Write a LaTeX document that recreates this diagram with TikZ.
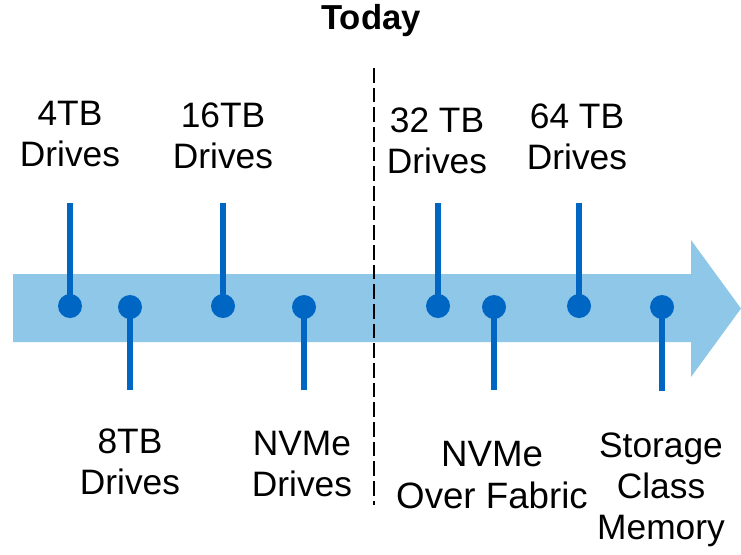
\documentclass[tikz,border=0pt]{standalone}
\usepackage{fontspec}
\setmainfont{Liberation Sans}
\usepackage{tikz}
\usetikzlibrary{positioning}
\definecolor{barblue}{RGB}{142,199,232}
\definecolor{pinblue}{RGB}{0,102,196}

\begin{document}
\begin{tikzpicture}[x=0.75pt,y=-0.75pt]
\tikzstyle{dot}=[circle, fill=pinblue, inner sep=0pt, minimum size=18pt]
\tikzstyle{stem}=[line width=5pt, pinblue]
\tikzstyle{lbl}=[align=center, anchor=base, inner sep=0pt, font=\fontsize{26.5}{30.5}\selectfont]
\useasboundingbox (0,0) rectangle (741,554);

% time arrow
\fill[barblue] (13,274) -- (691,274) -- (691,240) -- (741,308.5) -- (691,377) -- (691,342) -- (13,342) -- cycle;

% today
\node[anchor=base, inner sep=0pt, font=\fontsize{26}{30}\selectfont\bfseries] (today) at (371,29) {Today};
\coordinate (d1) at (374,68);
\coordinate (d2) at (374,505);
\draw[line width=1.2pt, dash pattern=on 11pt off 3.75pt] (d1) -- (d2);

% pins above
\coordinate (t1) at (70,203);
\coordinate (t3) at (223,203);
\coordinate (t5) at (438,203);
\coordinate (t7) at (579,203);
% pins below
\coordinate (b2) at (130,390);
\coordinate (b4) at (304,390);
\coordinate (b6) at (494,390);
\coordinate (b8) at (662,391);

\node[dot] (p1) at (70,306) {};
\node[dot] (p2) at (130,307) {};
\node[dot] (p3) at (223,306) {};
\node[dot] (p4) at (304,307) {};
\node[dot] (p5) at (438,306) {};
\node[dot] (p6) at (494,307) {};
\node[dot] (p7) at (579,306) {};
\node[dot] (p8) at (662,307) {};

\draw[stem] (p1.center) -- (t1) (p3.center) -- (t3) (p5.center) -- (t5) (p7.center) -- (t7);
\draw[stem] (p2.center) -- (b2) (p4.center) -- (b4) (p6.center) -- (b6) (p8.center) -- (b8);

% labels (base = last line)
\node[lbl] (l1) at (70,166) {4TB\\Drives};
\node[lbl] (l3) at (223,168) {16TB\\Drives};
\node[lbl] (l5) at (437,173) {32 TB\\Drives};
\node[lbl] (l7) at (577,169) {64 TB\\Drives};
\node[lbl] (l2) at (130,494) {8TB\\Drives};
\node[lbl] (l4) at (302,496) {NVMe\\Drives};
\node[lbl, font=\fontsize{27.5}{31}\selectfont] (l6) at (492,508) {NVMe\\Over Fabric};
\node[lbl] (l8) at (661,539) {Storage\\Class\\Memory};
\end{tikzpicture}
\end{document}
